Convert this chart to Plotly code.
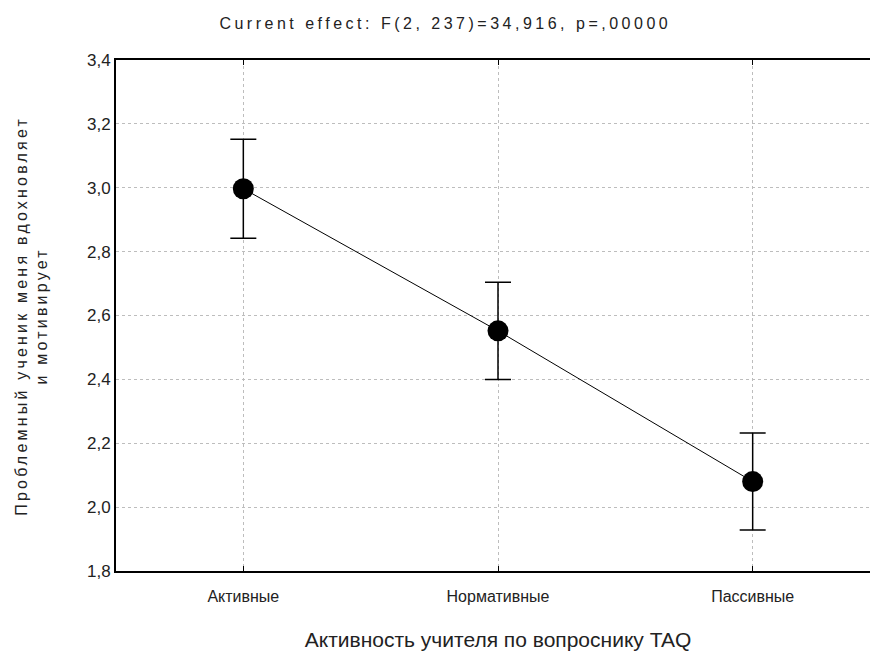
import plotly.graph_objects as go

categories = ["Активные", "Нормативные", "Пассивные"]
means = [2.997, 2.552, 2.080]
ci_half = [0.155, 0.152, 0.152]
y_ticks = [1.8, 2.0, 2.2, 2.4, 2.6, 2.8, 3.0, 3.2, 3.4]

title_text = "Current effect: F(2, 237)=34,916, p=,00000"
x_title = "Активность учителя по вопроснику TAQ"
y_title_lines = ["Проблемный ученик меня вдохновляет", "и мотивирует"]

FONT = "Liberation Sans, Arial, sans-serif"


def spaced(s, px):
    return f'<span style="letter-spacing:{px}px">{s}</span>'


fig = go.Figure()
fig.add_trace(go.Scatter(
    x=categories, y=means,
    mode="lines+markers",
    line=dict(color="black", width=1),
    marker=dict(color="black", size=21),
    error_y=dict(type="data", array=ci_half, visible=True,
                 color="black", thickness=1.5, width=13),
    showlegend=False,
))

# The reference plot frame runs past the right edge of the picture, so the
# figure is made slightly wider than the 870px window and the overflow hidden.
fig.update_layout(
    width=880, height=655,
    margin=dict(l=116, r=0, t=60, b=84),
    paper_bgcolor="white", plot_bgcolor="white",
    separators=", ",
    font=dict(family=FONT, color="#222", size=16),
    title=dict(text=spaced(title_text, 3.5), x=0.506, xanchor="center", y=0.965, yanchor="middle",
               font=dict(family=FONT, size=16, color="#222")),
    xaxis=dict(
        type="category", range=[-0.5, 2.5], automargin=False,
        showline=True, linecolor="black", linewidth=2, mirror="ticks",
        ticks="inside", ticklen=5, tickcolor="black", tickwidth=1,
        showgrid=True, gridcolor="#bdbdbd", griddash="dot", gridwidth=1,
        tickfont=dict(size=16, family=FONT, color="#222"),
        ticklabelstandoff=10,
        title=dict(text=x_title, font=dict(size=21, family=FONT, color="#222"), standoff=28),
        zeroline=False,
    ),
    yaxis=dict(
        range=[1.8, 3.4], tickvals=y_ticks, tickformat=".1f", automargin=False,
        showline=True, linecolor="black", linewidth=2,
        ticks="", showgrid=True, gridcolor="#bdbdbd", griddash="dot", gridwidth=1,
        tickfont=dict(size=17, family=FONT, color="#222"),
        zeroline=False,
    ),
    annotations=[dict(
        text=spaced(y_title_lines[0], 3.2) + "<br>" + spaced(y_title_lines[1], 3.2),
        textangle=-90, xref="paper", yref="paper",
        x=-0.111, y=0.5, xanchor="center", yanchor="middle", showarrow=False,
        font=dict(size=16, family=FONT, color="#222"),
    )],
)

fig.write_html(
    "out.html", config={"displayModeBar": False},
    post_script=("document.body.style.margin='0';"
                 "document.body.style.overflow='hidden';"
                 "document.documentElement.style.overflow='hidden';"),
)
